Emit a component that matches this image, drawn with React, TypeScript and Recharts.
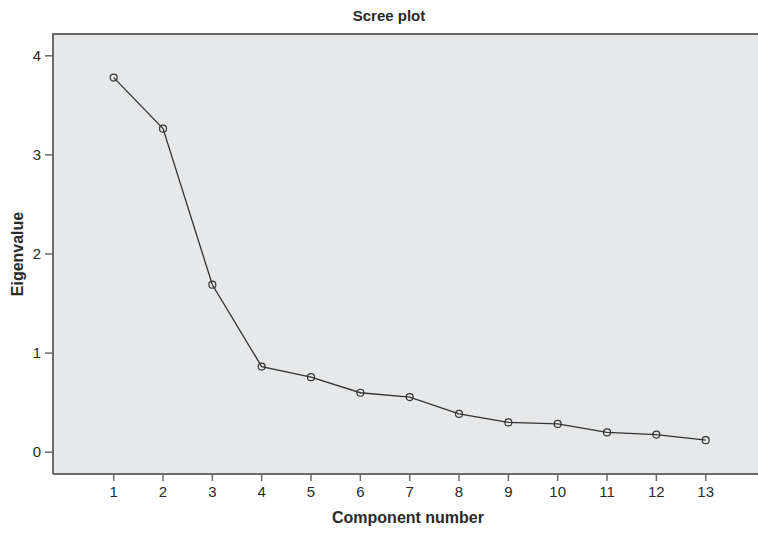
import React from "react";
import { LineChart, Line, XAxis, YAxis, ReferenceArea, Label } from "recharts";

const components = [1, 2, 3, 4, 5, 6, 7, 8, 9, 10, 11, 12, 13];
const eigenvalues = [3.78, 3.265, 1.69, 0.864, 0.757, 0.6, 0.556, 0.386, 0.3, 0.285, 0.2, 0.178, 0.121];
const xTicks = [1, 2, 3, 4, 5, 6, 7, 8, 9, 10, 11, 12, 13];
const yTicks = [0, 1, 2, 3, 4];

const data = components.map((c, i) => ({ c, v: eigenvalues[i] }));

const X_DOMAIN: [number, number] = [-0.23, 14.06];
const Y_DOMAIN: [number, number] = [-0.22, 4.22];

const FONT = "'Liberation Sans', Arial, Helvetica, sans-serif";
const AXIS = "#6a6a6a";
const INK = "#2a2a2a";

const XTick = (props: any) => {
  const { x, y, payload } = props;
  return (
    <text x={x} y={y} dy={11} textAnchor="middle" fontSize={15} fill={INK} fontFamily={FONT}>
      {payload.value}
    </text>
  );
};

const YTick = (props: any) => {
  const { x, y, payload } = props;
  return (
    <text x={x} y={y} dy={5} textAnchor="end" fontSize={15} fill={INK} fontFamily={FONT}>
      {payload.value}
    </text>
  );
};

export default function App() {
  return (
    <div
      style={{
        position: "absolute",
        left: 0,
        top: 0,
        width: 758,
        height: 533,
        overflow: "hidden",
        background: "#fff",
        fontFamily: FONT,
      }}
    >
      <div
        style={{
          position: "absolute",
          left: 289,
          width: 200,
          top: 7,
          textAlign: "center",
          fontWeight: "bold",
          fontSize: 15,
          color: INK,
          zIndex: 1,
        }}
      >
        Scree plot
      </div>
      {/* top frame edge of the plot box */}
      <div
        style={{
          position: "absolute",
          left: 52,
          top: 33,
          width: 706,
          height: 2,
          background: AXIS,
          zIndex: 1,
        }}
      />
      <LineChart width={758} height={533} data={data} margin={{ top: 34, right: 0, bottom: 0, left: 0 }}>
        <ReferenceArea
          x1={X_DOMAIN[0]}
          x2={X_DOMAIN[1]}
          y1={Y_DOMAIN[0]}
          y2={Y_DOMAIN[1]}
          fill="#e7e8ea"
          fillOpacity={1}
          stroke="none"
          strokeWidth={0}
          ifOverflow="visible"
        />
        <XAxis
          type="number"
          dataKey="c"
          domain={X_DOMAIN}
          ticks={xTicks}
          allowDataOverflow
          height={59}
          axisLine={{ stroke: AXIS, strokeWidth: 2 }}
          tickLine={{ stroke: AXIS, strokeWidth: 1.5 }}
          tickSize={7}
          tickMargin={5}
          tick={<XTick />}
        >
          <Label
            content={() => (
              <text x={408} y={523} textAnchor="middle" fontWeight="bold" fontSize={16} fill={INK} fontFamily={FONT}>
                Component number
              </text>
            )}
          />
        </XAxis>
        <YAxis
          type="number"
          domain={Y_DOMAIN}
          ticks={yTicks}
          allowDataOverflow
          width={53}
          axisLine={{ stroke: AXIS, strokeWidth: 2 }}
          tickLine={{ stroke: AXIS, strokeWidth: 1.5 }}
          tickSize={8}
          tickMargin={4}
          tick={<YTick />}
        >
          <Label
            content={() => (
              <text
                x={23}
                y={254}
                transform="rotate(-90 23 254)"
                textAnchor="middle"
                fontWeight="bold"
                fontSize={16}
                fill={INK}
                fontFamily={FONT}
              >
                Eigenvalue
              </text>
            )}
          />
        </YAxis>
        <Line
          type="linear"
          dataKey="v"
          stroke="#333"
          strokeWidth={1.3}
          dot={{ r: 3.5, stroke: "#333", strokeWidth: 1.2, fill: "none" }}
          activeDot={false}
          isAnimationActive={false}
        />
      </LineChart>
    </div>
  );
}
